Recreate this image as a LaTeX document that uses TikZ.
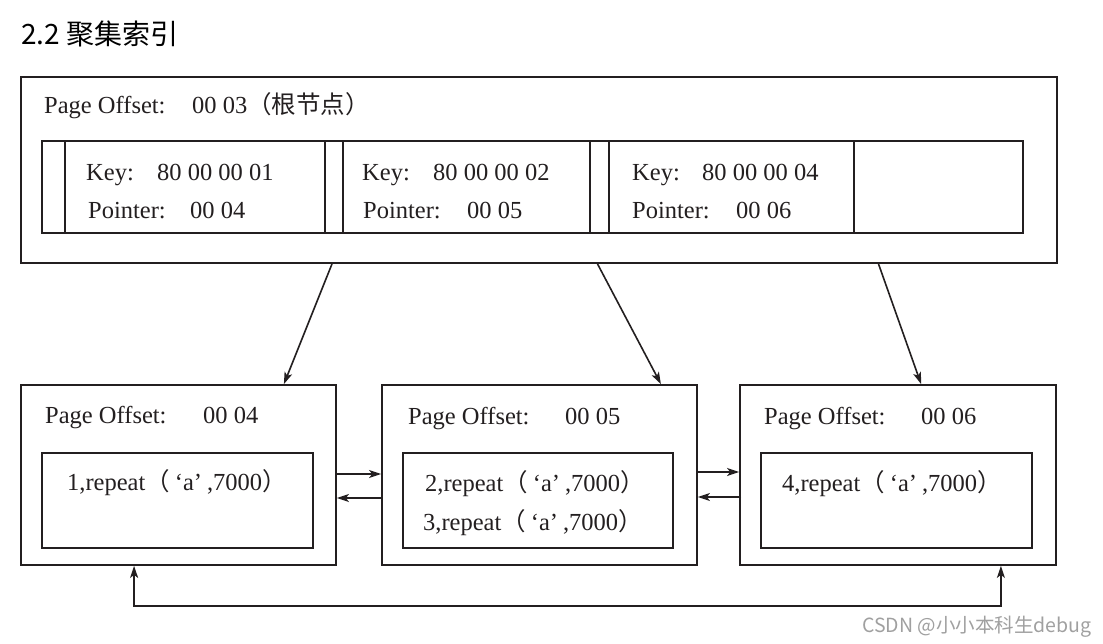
\documentclass[tikz,border=0pt]{standalone}
\usepackage{fontspec}
\setmainfont{Liberation Serif}
\newfontfamily\cjk{Noto Sans CJK SC}
\usetikzlibrary{arrows.meta,calc}
\definecolor{ink}{HTML}{231F20}
\definecolor{wm}{HTML}{A0A0A0}
\newcommand{\fw}[1]{{\cjk #1}}
\newcommand{\rec}{repeat\fw{（}\hspace{5pt}‘a’\hspace{5pt},7000\fw{）}}
\begin{document}
\begin{tikzpicture}[x=1pt,y=-1pt,
  box/.style={draw=ink, line width=1.8pt, inner sep=0pt, fill=none},
  cell/.style={draw=ink, line width=1.6pt, inner sep=0pt},
  txt/.style={anchor=base west, inner sep=0pt, font=\fontsize{24.5}{28}\selectfont, text=ink},
  arr/.style={draw=ink, line width=1.6pt, -{Stealth[length=12pt,width=8pt,inset=3pt]}},
  arrb/.style={draw=ink, line width=1.6pt, {Stealth[length=12pt,width=8pt,inset=3pt]}-{Stealth[length=12pt,width=8pt,inset=3pt]}}
]
\useasboundingbox (0,0) rectangle (1103,644);
\fill[white] (0,0) rectangle (1103,644);

% title
\node[anchor=base west, inner sep=0pt, font=\cjk\fontsize{28}{30}\selectfont, text=black] (title) at (21,45) {2.2 聚集索引};

% root page
\node[box, minimum width=1036pt, minimum height=186pt] (root) at (539,170) {};
\node[txt] (rpo) at (44,114) {Page Offset:};
\node[txt] (rpv) at (192,114) {00 03\fw{（根节点）}};

% root record row cells
\node[cell, minimum width=23pt, minimum height=92pt] (p0) at (53.5,187) {};
\node[cell, minimum width=260pt, minimum height=92pt] (k1) at (195,187) {};
\node[cell, minimum width=18pt, minimum height=92pt] (p1) at (334,187) {};
\node[cell, minimum width=247pt, minimum height=92pt] (k2) at (466.5,187) {};
\node[cell, minimum width=19pt, minimum height=92pt] (p2) at (599.5,187) {};
\node[cell, minimum width=245pt, minimum height=92pt] (k3) at (731.5,187) {};
\node[cell, minimum width=169pt, minimum height=92pt] (p3) at (938.5,187) {};

\node[txt] (k1a) at (86,181) {Key:};
\node[txt] (k1b) at (157,181) {80 00 00 01};
\node[txt] (k1c) at (88,219) {Pointer:};
\node[txt] (k1d) at (190,219) {00 04};
\node[txt] (k2a) at (362,181) {Key:};
\node[txt] (k2b) at (433,181) {80 00 00 02};
\node[txt] (k2c) at (363,219) {Pointer:};
\node[txt] (k2d) at (467,219) {00 05};
\node[txt] (k3a) at (632,181) {Key:};
\node[txt] (k3b) at (702,181) {80 00 00 04};
\node[txt] (k3c) at (632,219) {Pointer:};
\node[txt] (k3d) at (736,219) {00 06};

% leaf pages
\node[box, minimum width=315pt, minimum height=180pt] (L1) at (178.5,475) {};
\node[box, minimum width=315pt, minimum height=180pt] (L2) at (539.5,475) {};
\node[box, minimum width=316pt, minimum height=180pt] (L3) at (898,475) {};

\node[cell, minimum width=271pt, minimum height=95pt] (d1) at (177.5,500.5) {};
\node[cell, minimum width=270pt, minimum height=95pt] (d2) at (538,500.5) {};
\node[cell, minimum width=271pt, minimum height=95pt] (d3) at (896.5,500.5) {};

\node[txt] (l1a) at (45,423) {Page Offset:};
\node[txt] (l1b) at (203,423) {00 04};
\node[txt] (l2a) at (408,424) {Page Offset:};
\node[txt] (l2b) at (565,424) {00 05};
\node[txt] (l3a) at (764,424) {Page Offset:};
\node[txt] (l3b) at (921,424) {00 06};

\node[txt] (r1) at (67,490) {1,\rec};
\node[txt] (r2) at (425,491) {2,\rec};
\node[txt] (r3) at (423,530) {3,\rec};
\node[txt] (r4) at (782,491) {4,\rec};

% arrows root -> leaves
\draw[arr] ($(p1.center |- root.south)+(-2,0)$) -- ($(L1.north east)+(-53,0)$);
\draw[arr] ($(p2.center |- root.south)+(-2,0)$) -- ($(L2.north east)+(-37,0)$);
\draw[arr] ($(p3.center |- root.south)+(-60,0)$) -- ($(L3.north west)+(182,0)$);

% sibling links
\draw[arr] ($(L1.east)+(0,-1)$) -- ($(L2.west)+(0,-1)$);
\draw[arr] ($(L2.west)+(0,23)$) -- ($(L1.east)+(0,23)$);
\draw[arr] ($(L2.east)+(0,-3)$) -- ($(L3.west)+(0,-3)$);
\draw[arr] ($(L3.west)+(2,22)$) -- ($(L2.east)+(0,22)$);

% bottom loop
\draw[arrb] ($(L1.south west)+(114,0)$) -- ++(0,40) -| ($(L3.south east)+(-56,0)$);

% watermark
\node[anchor=base west, inner sep=0pt, font=\cjk\fontsize{19.5}{21}\selectfont, text=wm] (wmk) at (862,632) {CSDN @小小本科生debug};
\end{tikzpicture}
\end{document}
